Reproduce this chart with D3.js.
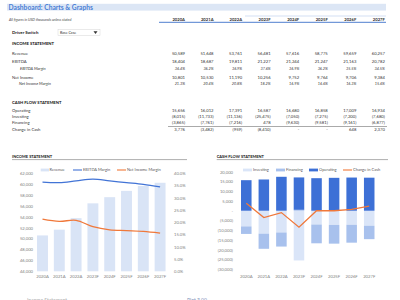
<!DOCTYPE html>
<html><head><meta charset="utf-8">
<script src="https://cdn.jsdelivr.net/npm/d3@7/dist/d3.min.js"></script>
<style>
html,body{margin:0;padding:0;background:#fff;}
svg{display:block;font-family:Lato,"Open Sans",sans-serif;}
</style></head><body>
<svg id="c" width="400" height="300"></svg>
<script>
const years = ["2020A","2021A","2022A","2023F","2024F","2025F","2026F","2027F"];
const revenue = [50589,51648,53761,56481,57616,58775,59659,60257];
const ebitda = [18404,18687,19811,21227,21244,21247,21163,20782];
const ebitdaMargin = [0.364,0.362,0.369,0.376,0.369,0.362,0.355,0.345];
const netIncome = [10801,10530,11190,10256,9752,9764,9706,9384];
const netMargin = [0.213,0.204,0.208,0.182,0.169,0.166,0.163,0.156];
const operating = [15656,16012,17391,16587,16680,16858,17009,16934];
const investing = [-8015,-11733,-11136,-25475,-7050,-7275,-7200,-7680];
const financing = [-3865,-7761,-7216,478,-9630,-9581,-9161,-6877];
const changeCash = [3776,-3482,-959,-8410,0,0,648,2370];
const incomeLeftTicks = [44000,46000,48000,50000,52000,54000,56000,58000,60000,62000];
const incomeRightTicks = [0,0.05,0.10,0.15,0.20,0.25,0.30,0.35,0.40];
const cashTicks = [-30000,-25000,-20000,-15000,-10000,-5000,0,5000,10000,15000,20000];

const svg = d3.select("#c");
const fmt = d3.format(",");
const acct = v => v === 0 ? "-" : (v < 0 ? "(" + fmt(-v) + ")" : fmt(v));
const pct = d3.format(".1%");

// ---------- Header ----------
svg.append("rect").attr("x",7).attr("y",3.8).attr("width",379).attr("height",6.8).attr("fill","#dce6f5");
svg.append("text").attr("x",8.5).attr("y",9.7).attr("font-size",7.4).attr("font-weight","bold")
  .attr("fill","#4a7fd6").attr("textLength",84.5).attr("lengthAdjust","spacingAndGlyphs").text("Dashboard: Charts & Graphs");
svg.append("text").attr("x",9).attr("y",21).attr("font-size",3.6).attr("font-style","italic")
  .attr("fill","#444").text("All figures in USD thousands unless stated");

const colX = d3.scalePoint().domain(years).range([185, 384.9]);
svg.append("line").attr("x1",245).attr("x2",386).attr("y1",16).attr("y2",16).attr("stroke","#c8d7f0").attr("stroke-width",0.8);
svg.append("line").attr("x1",159).attr("x2",386).attr("y1",22.3).attr("y2",22.3).attr("stroke","#4f7fcf").attr("stroke-width",1);
svg.selectAll(".hdr").data(years).join("text").attr("x",d=>colX(d)).attr("y",21)
  .attr("text-anchor","end").attr("font-size",4.2).attr("font-weight","bold").attr("fill","#333").text(d=>d);

svg.append("text").attr("x",12).attr("y",34.2).attr("font-size",4.4).attr("font-weight","bold").attr("fill","#222").text("Driver Switch");
svg.append("rect").attr("x",58).attr("y",29.5).attr("width",42).attr("height",6).attr("fill","#fff").attr("stroke","#d6d6d6").attr("stroke-width",0.5);
svg.append("text").attr("x",60).attr("y",34).attr("font-size",3.6).attr("fill","#333").text("Base Case");
svg.append("path").attr("d","M93.5,31.3 L97.5,31.3 L95.5,34 Z").attr("fill","#333");

// ---------- Tables ----------
function label(txt,x,y,opt={}){
  svg.append("text").attr("x",x).attr("y",y).attr("font-size",opt.size||4.2)
    .attr("font-weight",opt.bold?"bold":"normal").attr("font-style",opt.italic?"italic":"normal")
    .attr("fill",opt.color||"#333").text(txt);
}
function row(vals,y,f,opt={}){
  svg.append("g").selectAll("text").data(vals).join("text")
    .attr("x",(d,i)=>colX(years[i])).attr("y",y).attr("text-anchor","end")
    .attr("font-size",opt.size||4.2).attr("font-style",opt.italic?"italic":"normal")
    .attr("fill","#333").text(d=>f(d));
}
label("INCOME STATEMENT",12,45.2,{bold:true,color:"#111",size:4.2});
label("Revenue",12,54.8); row(revenue,54.8,fmt);
label("EBITDA",12,62.5); row(ebitda,62.5,fmt);
label("EBITDA Margin",20,69.5,{italic:true,size:4}); row(ebitdaMargin,69.5,pct,{italic:true,size:3.8});
label("Net Income",12,78.8); row(netIncome,78.8,fmt);
label("Net Income Margin",19,84.8,{italic:true,size:4}); row(netMargin,84.8,pct,{italic:true,size:3.8});

label("CASH FLOW STATEMENT",12,103.8,{bold:true,color:"#111",size:4.2});
label("Operating",12,111.5); row(operating,111.5,acct);
label("Investing",12,117.8); row(investing,117.8,acct);
label("Financing",12,124.4); row(financing,124.4,acct);
svg.append("line").attr("x1",168).attr("x2",387).attr("y1",126.5).attr("y2",126.5).attr("stroke","#555").attr("stroke-width",0.5);
label("Change in Cash",12,130.8); row(changeCash,130.8,acct);

// ---------- Income chart ----------
const axisColor = "#7f7f7f";
svg.append("text").attr("x",12).attr("y",157.5).attr("font-size",4).attr("font-weight","bold").attr("fill","#111").text("INCOME STATEMENT");
svg.append("line").attr("x1",12).attr("x2",187).attr("y1",159.6).attr("y2",159.6).attr("stroke","#8c8c8c").attr("stroke-width",0.7);

const xI = d3.scaleBand().domain(years).range([34.1,168.5]).paddingInner(0.35).paddingOuter(0.175);
const yL = d3.scaleLinear().domain([44000,62000]).range([271.3,173.3]);
const yR = d3.scaleLinear().domain([0,0.40]).range([271.3,173.3]);

svg.append("g").selectAll("rect").data(revenue).join("rect")
  .attr("x",(d,i)=>xI(years[i])).attr("width",xI.bandwidth())
  .attr("y",d=>yL(d)).attr("height",d=>yL(44000)-yL(d)).attr("fill","#d9e4f6");

const lineI = d3.line().x((d,i)=>xI(years[i])+xI.bandwidth()/2).y(d=>yR(d)).curve(d3.curveCatmullRom.alpha(0.5));
svg.append("path").attr("d",lineI(ebitdaMargin)).attr("fill","none").attr("stroke","#4274d6").attr("stroke-width",1.3);
svg.append("path").attr("d",lineI(netMargin)).attr("fill","none").attr("stroke","#f0783a").attr("stroke-width",1.3);

function styleAxis(g){
  g.select(".domain").remove();
  g.selectAll("line").remove();
  g.selectAll("text").attr("fill",axisColor).attr("font-size",4.2).attr("font-family","Lato,'Open Sans',sans-serif");
}
svg.append("g").attr("transform","translate(34,0)")
  .call(d3.axisLeft(yL).tickValues(incomeLeftTicks).tickSize(0).tickPadding(1).tickFormat(fmt)).call(styleAxis);
svg.append("g").attr("transform","translate(172,0)")
  .call(d3.axisRight(yR).tickValues(incomeRightTicks).tickSize(0).tickPadding(2).tickFormat(d3.format(".1%"))).call(styleAxis);
svg.append("g").attr("transform","translate(0,273.5)")
  .call(d3.axisBottom(xI).tickSize(0).tickPadding(2)).call(styleAxis);

// legend income
const legI = svg.append("g").attr("font-size",4).attr("fill","#595959");
legI.append("rect").attr("x",40.7).attr("y",168.6).attr("width",8.3).attr("height",2.8).attr("fill","#d9e4f6");
legI.append("text").attr("x",49.5).attr("y",171.3).attr("fill","#595959").text("Revenue");
legI.append("line").attr("x1",73).attr("x2",82).attr("y1",170).attr("y2",170).attr("stroke","#4274d6").attr("stroke-width",1.1);
legI.append("text").attr("x",83).attr("y",171.3).attr("fill","#595959").text("EBITDA Margin");
legI.append("line").attr("x1",117).attr("x2",126).attr("y1",170).attr("y2",170).attr("stroke","#f0783a").attr("stroke-width",1.1);
legI.append("text").attr("x",127).attr("y",171.3).attr("fill","#595959").text("Net Income Margin");

// ---------- Cash flow chart ----------
svg.append("text").attr("x",216.7).attr("y",157.5).attr("font-size",4).attr("font-weight","bold").attr("fill","#111").text("CASH FLOW STATEMENT");
svg.append("line").attr("x1",216.7).attr("x2",388).attr("y1",159.6).attr("y2",159.6).attr("stroke","#8c8c8c").attr("stroke-width",0.7);

const xC = d3.scaleBand().domain(years).range([237.5,378]).paddingInner(0.4).paddingOuter(0.2);
const yC = d3.scaleLinear().domain([-30000,20000]).range([269.3,171.7]);

const table = years.map((y,i)=>({year:y, Investing:investing[i], Financing:financing[i], Operating:operating[i]}));
const keys = ["Investing","Financing","Operating"];
const colors = {Investing:"#dae5f8", Financing:"#a8c1ed", Operating:"#3d70d6"};
const stack = d3.stack().keys(keys).offset(d3.stackOffsetDiverging)(table);
svg.append("g").selectAll("g").data(stack).join("g").attr("fill",d=>colors[d.key])
  .selectAll("rect").data(d=>d).join("rect")
  .attr("x",d=>xC(d.data.year)).attr("width",xC.bandwidth())
  .attr("y",d=>yC(Math.max(d[0],d[1]))).attr("height",d=>Math.abs(yC(d[0])-yC(d[1])));

const lineC = d3.line().x((d,i)=>xC(years[i])+xC.bandwidth()/2).y(d=>yC(d));
svg.append("path").attr("d",lineC(changeCash)).attr("fill","none").attr("stroke","#f0783a").attr("stroke-width",1.3);

svg.append("g").attr("transform","translate(233,0)")
  .call(d3.axisLeft(yC).tickValues(cashTicks).tickSize(0).tickPadding(0).tickFormat(acct)).call(styleAxis);
svg.append("g").attr("transform","translate(0,273.5)")
  .call(d3.axisBottom(xC).tickSize(0).tickPadding(2)).call(styleAxis);

const legC = svg.append("g").attr("font-size",4);
legC.append("rect").attr("x",243).attr("y",168.6).attr("width",9).attr("height",2.8).attr("fill","#dae5f8");
legC.append("text").attr("x",253).attr("y",171.3).attr("fill","#595959").text("Investing");
legC.append("rect").attr("x",276).attr("y",168.6).attr("width",9).attr("height",2.8).attr("fill","#a8c1ed");
legC.append("text").attr("x",286).attr("y",171.3).attr("fill","#595959").text("Financing");
legC.append("rect").attr("x",309).attr("y",168.6).attr("width",9).attr("height",2.8).attr("fill","#3d70d6");
legC.append("text").attr("x",319).attr("y",171.3).attr("fill","#595959").text("Operating");
legC.append("line").attr("x1",343).attr("x2",352).attr("y1",170).attr("y2",170).attr("stroke","#f0783a").attr("stroke-width",1.1);
legC.append("text").attr("x",353).attr("y",171.3).attr("fill","#595959").text("Change in Cash");

// partially visible next row at bottom
svg.append("text").attr("x",27).attr("y",302.3).attr("font-size",5).attr("fill","#b0b0b0").text("Income Statement");
svg.append("text").attr("x",187).attr("y",302.3).attr("font-size",5).attr("fill","#8090b8").text("Plot 3.00");
</script>
</body></html>
